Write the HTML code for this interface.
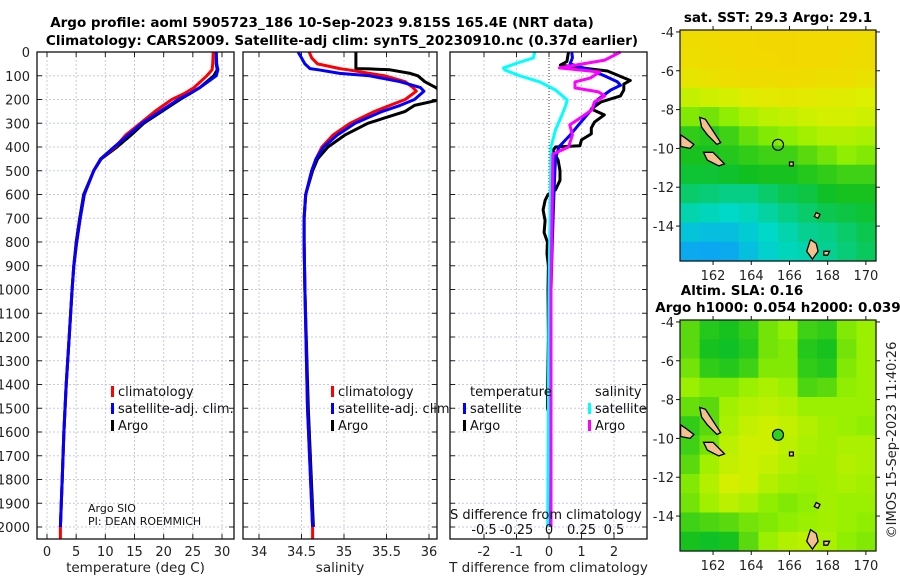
<!DOCTYPE html>
<html><head><meta charset="utf-8">
<style>
html,body{margin:0;padding:0;background:#fff;}
svg{display:block;font-family:"DejaVu Sans","Liberation Sans",sans-serif;}
</style></head>
<body>
<svg id="fig" width="900" height="580" viewBox="0 0 900 580" xmlns="http://www.w3.org/2000/svg">
<g id="titles" font-weight="bold" font-size="13.5" text-anchor="middle">
<text x="322" y="27">Argo profile: aoml 5905723_186 10-Sep-2023 9.815S 165.4E (NRT data)</text>
<text x="342" y="45">Climatology: CARS2009. Satellite-adj clim: synTS_20230910.nc (0.37d earlier)</text>
<text x="778" y="22">sat. SST: 29.3 Argo: 29.1</text>
<text x="742" y="295">Altim. SLA: 0.16</text>
<text x="778" y="312">Argo h1000: 0.054 h2000: 0.039</text>
</g>
<text transform="translate(896,440) rotate(-90)" text-anchor="middle" font-size="13" fill="#222">©IMOS 15-Sep-2023 11:40:26</text>
<g id="layer"></g>
</svg>
<script>
// ===== profile data =====
const depthT = [0,50,75,100,150,175,200,250,300,350,400,450,500,600,700,800,900,1000,1200,1400,1600,1800,2000];
const tempClim = [28.5,28.4,28.3,27.4,25.2,23.5,21.4,18.5,16.0,13.5,11.7,9.2,8.0,6.4,5.7,5.1,4.6,4.3,3.8,3.3,2.9,2.6,2.3];
const tempSat  = [29.0,29.1,29.3,29.0,26.2,24.5,22.5,19.4,16.3,13.9,11.5,9.2,8.0,6.4,5.7,5.1,4.6,4.3,3.8,3.3,2.9,2.6,2.3];
const tempArgo = [29.0,29.0,29.2,28.6,26.2,24.5,22.8,19.7,16.6,14.4,12.0,9.3,8.0,6.3,5.6,5.0,4.6,4.3,3.8,3.3,2.9,2.6,2.3];
const climExtraDepth = [2000,2050];
const climExtraTemp = [2.3,2.3];
const depthS = [0,25,50,70,75,90,100,125,150,165,200,225,250,300,350,400,450,500,600,700,800,1000,1500,2000];
const salClim = [34.59,34.62,34.69,34.95,35.05,35.3,35.48,35.72,35.81,35.85,35.72,35.54,35.36,35.07,34.87,34.74,34.67,34.62,34.55,34.53,34.53,34.54,34.57,34.63];
const salSat  = [34.46,34.5,34.54,34.6,34.7,34.95,35.3,35.66,35.9,35.94,35.83,35.66,35.45,35.13,34.92,34.76,34.67,34.62,34.55,34.53,34.53,34.54,34.57,34.63];
const depthSArgo = [0,70,71,75,90,100,125,150,165,200,225,250,300,350,400,450,500,600,700,800,1000,1500,2000];
const salArgo = [35.14,35.14,35.3,35.54,35.78,35.87,35.95,36.08,36.14,36.14,35.83,35.72,35.28,35.01,34.81,34.69,34.63,34.55,34.53,34.53,34.54,34.58,34.64];
const climExtraSal = [34.63,34.63];
// difference panel
const depthTdSat = [0,25,50,75,100,125,140,160,200,250,300,350,400,450,500,600,800,1000,2000];
const tDiffSat = [0.7,0.72,0.65,1.26,1.7,2.1,2.2,1.9,1.5,1.26,0.95,0.65,0.3,0.2,0.18,0.15,0.1,0.06,0.03];
const depthTdArgo = [0,40,55,67,80,120,135,160,185,210,240,265,295,320,345,370,395,400,415,455,500,540,580,600,625,665,710,760,800,850,900,1000,1200,1500,1520,1700,2000];
const tDiffArgo = [0.6,0.55,0.35,1.0,1.8,2.5,2.3,2.3,2.2,1.6,1.3,1.7,1.4,1.3,1.3,1.0,0.95,0.2,0.12,0.28,0.34,0.34,0.2,-0.03,-0.12,-0.18,-0.12,-0.15,-0.05,-0.06,-0.02,-0.03,-0.02,-0.05,0.0,-0.02,-0.02];
const depthSdSat = [0,25,42,67,76,101,126,160,202,223,265,328,400,1000,2000];
const sDiffSat = [-0.11,-0.12,-0.22,-0.35,-0.34,-0.22,-0.07,0.05,0.14,0.13,0.1,0.05,0.015,0.0,-0.01];
const depthSdArgo = [0,34,67,76,84,109,126,151,168,185,210,244,278,307,349,400,430,1000,2000];
const sDiffArgo = [0.55,0.43,0.08,0.24,0.39,0.32,0.2,0.2,0.38,0.43,0.35,0.33,0.24,0.16,0.18,0.15,0.03,0.015,0.015];
const depthTicks = [0,100,200,300,400,500,600,700,800,900,1000,1100,1200,1300,1400,1500,1600,1700,1800,1900,2000];
const tempTicks = [0,5,10,15,20,25,30];
const salTicks = [34,34.5,35,35.5,36];
const salTickLabels = ["34","34.5","35","35.5","36"];
const tDiffTicks = [-2,-1,0,1,2];
const sDiffTicks = [-0.5,-0.25,0,0.25,0.5];
const sDiffTickLabels = ["-0.5","-0.25","0","0.25","0.5"];
// ===== map data (cells: 12 rows lat -3.9..-15.8, 10 cols lon 160.3..170.5) =====
const lonTicks = [162,164,166,168,170];
const latTicks = [-4,-6,-8,-10,-12,-14];
const sstGrid = [
[0.93,0.94,0.95,0.95,0.96,0.96,0.95,0.95,0.95,0.93],
[0.92,0.93,0.94,0.95,0.95,0.96,0.95,0.95,0.94,0.93],
[0.88,0.9,0.92,0.93,0.93,0.94,0.93,0.92,0.92,0.9],
[0.76,0.78,0.8,0.84,0.86,0.87,0.86,0.85,0.84,0.82],
[0.62,0.6,0.64,0.7,0.74,0.76,0.78,0.8,0.8,0.78],
[0.5,0.48,0.52,0.58,0.62,0.64,0.68,0.72,0.72,0.7],
[0.46,0.46,0.48,0.5,0.52,0.52,0.56,0.6,0.64,0.62],
[0.42,0.42,0.43,0.45,0.46,0.46,0.48,0.5,0.52,0.52],
[0.34,0.32,0.3,0.3,0.34,0.38,0.4,0.44,0.46,0.46],
[0.24,0.22,0.2,0.22,0.26,0.3,0.34,0.38,0.4,0.42],
[0.14,0.12,0.12,0.16,0.2,0.24,0.28,0.3,0.34,0.38],
[0.06,0.05,0.06,0.12,0.18,0.22,0.24,0.28,0.32,0.36]];
const slaGrid = [
[0.56,0.48,0.46,0.5,0.6,0.64,0.52,0.5,0.62,0.66],
[0.56,0.46,0.44,0.48,0.6,0.62,0.48,0.46,0.6,0.66],
[0.6,0.5,0.48,0.52,0.62,0.62,0.5,0.48,0.62,0.66],
[0.66,0.62,0.62,0.66,0.7,0.66,0.54,0.56,0.64,0.66],
[0.58,0.56,0.68,0.72,0.74,0.72,0.66,0.66,0.66,0.66],
[0.5,0.56,0.7,0.76,0.78,0.76,0.72,0.68,0.66,0.64],
[0.52,0.6,0.74,0.78,0.78,0.74,0.7,0.68,0.7,0.7],
[0.56,0.68,0.76,0.78,0.76,0.72,0.68,0.68,0.72,0.7],
[0.62,0.72,0.8,0.78,0.72,0.68,0.66,0.68,0.7,0.68],
[0.6,0.68,0.74,0.7,0.64,0.62,0.64,0.68,0.66,0.66],
[0.52,0.54,0.56,0.6,0.62,0.64,0.66,0.68,0.66,0.64],
[0.46,0.44,0.46,0.56,0.66,0.72,0.74,0.7,0.64,0.62]];
const argoLon = 165.4, argoLat = -9.815;
const islands = [
 [[161.3,-8.4],[161.6,-8.5],[162.0,-9.1],[162.4,-9.7],[162.2,-9.8],[161.7,-9.3],[161.4,-8.9]],
 [[160.3,-9.3],[160.6,-9.5],[161.0,-9.8],[160.8,-10.0],[160.3,-9.9]],
 [[161.5,-10.2],[162.0,-10.2],[162.6,-10.8],[162.3,-10.9],[161.7,-10.6]],
 [[167.1,-14.7],[167.4,-14.9],[167.5,-15.3],[167.2,-15.7],[166.9,-15.3]],
 [[166.0,-10.7],[166.2,-10.7],[166.2,-10.9],[166.0,-10.9]],
 [[167.4,-13.3],[167.6,-13.4],[167.5,-13.6],[167.3,-13.5]],
 [[167.8,-15.3],[168.1,-15.3],[168.0,-15.5],[167.8,-15.5]]];

const NS="http://www.w3.org/2000/svg";
const layer=document.getElementById('layer');
function mk(tag,attrs,parent){const e=document.createElementNS(NS,tag);for(const k in attrs)e.setAttribute(k,attrs[k]);(parent||layer).appendChild(e);return e;}
function txt(x,y,s,attrs,parent){const e=mk('text',Object.assign({x:x,y:y},attrs||{}),parent);e.textContent=s;return e;}

const TOP=52, BOT=539;
const yD=d=>TOP+d*0.2375;
const xT=t=>47+t*5.833;
const xS=s=>259+(s-34)*85;
const xTD=v=>549+v*32.5;
const xSD=v=>549+v*130;

function pathFrom(xs,ds,fx){return xs.map((v,i)=>(i?'L':'M')+fx(v).toFixed(1)+','+yD(ds[i]).toFixed(1)).join(' ');}

function panel(name,x0,x1,ticks,fx,labels,xtitle){
  const g=mk('g',{});
  
  
  mk('rect',{x:x0,y:TOP,width:x1-x0,height:BOT-TOP,fill:'#fff'},g);
  depthTicks.forEach(d=>{
    const l=mk('line',{x1:x0,x2:x1,y1:yD(d),y2:yD(d),stroke:'#c8c8e6','stroke-width':1,'stroke-dasharray':'2,2'},g);
    
    
    mk('line',{x1:x0,x2:x0+5,y1:yD(d),y2:yD(d),stroke:'#222'},g);
    mk('line',{x1:x1-5,x2:x1,y1:yD(d),y2:yD(d),stroke:'#222'},g);
  });
  ticks.forEach((t,i)=>{
    const x=fx(t);
    if(!(name==='diff-panel'&&t===0)){
      const l=mk('line',{x1:x,x2:x,y1:TOP,y2:BOT,stroke:'#c8c8e6','stroke-dasharray':'2,2'},g);
      
      
    }
    mk('line',{x1:x,x2:x,y1:BOT,y2:BOT-5,stroke:'#222'},g);
    mk('line',{x1:x,x2:x,y1:TOP,y2:TOP+5,stroke:'#222'},g);
    const tl=txt(x,556,labels[i],{'text-anchor':'middle','font-size':13,fill:'#222'},g);
    
    
  });
  const at=txt((x0+x1)/2,572,xtitle,{'text-anchor':'middle','font-size':13.5,fill:'#222'},g);
  
  
  return g;
}
function frame(g,x0,x1){mk('rect',{x:x0,y:TOP,width:x1-x0,height:BOT-TOP,fill:'none',stroke:'#111','stroke-width':1.3},g);}
function line(g,name,xs,ds,fx,color,w){
  const p=mk('path',{d:pathFrom(xs,ds,fx),fill:'none',stroke:color,'stroke-width':w||3,'stroke-linejoin':'round'},g);
  
  
}
function legend(g,x,y,items){
  items.forEach((it,i)=>{
    if(it.c){const m=mk('rect',{x:x-7,y:y+i*17-10,width:3,height:11,fill:it.c},g);
      
      }
    const t=txt(x,y+i*17,it.t,{'font-size':13,fill:'#111'},g);
    
    
  });
}

// Panel 1
const g1=panel('temperature-panel',37,234,tempTicks,xT,tempTicks.map(String),'temperature (deg C)');
depthTicks.forEach(d=>{const t=txt(30,yD(d)+5,String(d),{'text-anchor':'end','font-size':13,fill:'#222'});
  
  });
line(g1,'temp-argo-line',tempArgo,depthT,xT,'#000');
line(g1,'temp-climatology-line',tempClim,depthT,xT,'#f00');
line(g1,'temp-climatology-extension',climExtraTemp,climExtraDepth,xT,'#f00');
line(g1,'temp-satellite-line',tempSat,depthT,xT,'#00f');
frame(g1,37,234);
legend(g1,118,396,[{c:'#f00',t:'climatology'},{c:'#00f',t:'satellite-adj. clim.'},{c:'#000',t:'Argo'}]);
const s1=txt(88,512,'Argo SIO',{'font-size':11,fill:'#111'},g1);


const s2=txt(88,525,'PI: DEAN ROEMMICH',{'font-size':11,fill:'#111'},g1);



// Panel 2
const g2=panel('salinity-panel',243,437,salTicks,xS,salTickLabels,'salinity');
const clip=mk('clipPath',{id:'c2'});mk('rect',{x:243,y:TOP,width:194,height:BOT-TOP},clip);
const g2c=mk('g',{'clip-path':'url(#c2)'},g2);
line(g2c,'sal-argo-line',salArgo,depthSArgo,xS,'#000');
line(g2c,'sal-climatology-line',salClim,depthS,xS,'#f00');
line(g2c,'sal-climatology-extension',climExtraSal,climExtraDepth,xS,'#f00');
line(g2c,'sal-satellite-line',salSat,depthS,xS,'#00f');
frame(g2,243,437);
legend(g2,338,396,[{c:'#f00',t:'climatology'},{c:'#00f',t:'satellite-adj. clim.'},{c:'#000',t:'Argo'}]);

// Panel 3
const g3=panel('diff-panel',450,647,tDiffTicks,xTD,tDiffTicks.map(String),'T difference from climatology');
mk('line',{x1:549,x2:549,y1:TOP,y2:BOT,stroke:'#333','stroke-dasharray':'1,2'},g3);
line(g3,'tdiff-argo-line',tDiffArgo,depthTdArgo,xTD,'#000');
line(g3,'tdiff-satellite-line',tDiffSat,depthTdSat,xTD,'#00f');
line(g3,'sdiff-satellite-line',sDiffSat,depthSdSat,xSD,'#0ff');
line(g3,'sdiff-argo-line',sDiffArgo,depthSdArgo,xSD,'#f0f');
frame(g3,450,647);
legend(g3,470,396,[{t:'temperature'},{c:'#00f',t:'satellite'},{c:'#000',t:'Argo'}]);
legend(g3,595,396,[{t:'salinity'},{c:'#0ff',t:'satellite'},{c:'#f0f',t:'Argo'}]);
const st=txt(450,519,'S difference from climatology',{'font-size':13,fill:'#111'},g3);


sDiffTicks.forEach((v,i)=>{const t=txt(xSD(v),534,sDiffTickLabels[i],{'text-anchor':'middle','font-size':13,fill:'#111'},g3);
  
  });

// Maps
const stops=[[0,[16,150,255]],[0.2,[0,216,200]],[0.45,[16,192,32]],[0.65,[150,240,0]],[0.82,[220,240,0]],[1,[250,208,0]]];
function cmap(v){for(let i=1;i<stops.length;i++){if(v<=stops[i][0]){const a=stops[i-1],b=stops[i],f=(v-a[0])/(b[0]-a[0]);
  const c=a[1].map((q,k)=>Math.round(q+(b[1][k]-q)*f));return 'rgb('+c.join(',')+')';}}return 'rgb(250,208,0)';}
function map(name,top,grid,dotFill){
  const L0=160.27,L1=170.53,A0=-3.9,A1=-15.8,X0=680,X1=876,Y0=top,Y1=top+231;
  const xL=l=>X0+(l-L0)/(L1-L0)*(X1-X0);
  const yA=a=>Y0+(a-A0)/(A1-A0)*(Y1-Y0);
  const g=mk('g',{});
  
  
  const nr=grid.length,nc=grid[0].length,cw=(X1-X0)/nc,ch=(Y1-Y0)/nr;
  grid.forEach((row,r)=>row.forEach((v,c)=>{
    const cell=mk('rect',{x:(X0+c*cw).toFixed(2),y:(Y0+r*ch).toFixed(2),width:(cw+0.6).toFixed(2),height:(ch+0.6).toFixed(2),fill:cmap(v)},g);
    
    
  }));
  islands.forEach(poly=>{const p=mk('polygon',{points:poly.map(q=>xL(q[0]).toFixed(1)+','+yA(q[1]).toFixed(1)).join(' '),fill:'#f5c090',stroke:'#000','stroke-width':1.3},g);
    
    });
  const m=mk('circle',{cx:xL(argoLon),cy:yA(argoLat),r:5.5,fill:dotFill,stroke:'#000','stroke-width':1.2},g);
  
  
  mk('rect',{x:X0,y:Y0,width:X1-X0,height:Y1-Y0,fill:'none',stroke:'#111','stroke-width':1.2},g);
  latTicks.forEach(a=>{const y=yA(a);mk('line',{x1:X0-4,x2:X0,y1:y,y2:y,stroke:'#111'},g);mk('line',{x1:X1,x2:X1+4,y1:y,y2:y,stroke:'#111'},g);
    const t=txt(X0-6,y+5,String(a),{'text-anchor':'end','font-size':13,fill:'#222'},g);
    
    });
  lonTicks.forEach(l=>{const x=xL(l);mk('line',{x1:x,x2:x,y1:Y1,y2:Y1+4,stroke:'#111'},g);mk('line',{x1:x,x2:x,y1:Y0-4,y2:Y0,stroke:'#111'},g);
    const t=txt(x,Y1+19,String(l),{'text-anchor':'middle','font-size':13,fill:'#222'},g);
    
    });
}
map('sst-map',30,sstGrid,'none');
map('sla-map',320,slaGrid,'#30d020');
</script>
</body></html>
